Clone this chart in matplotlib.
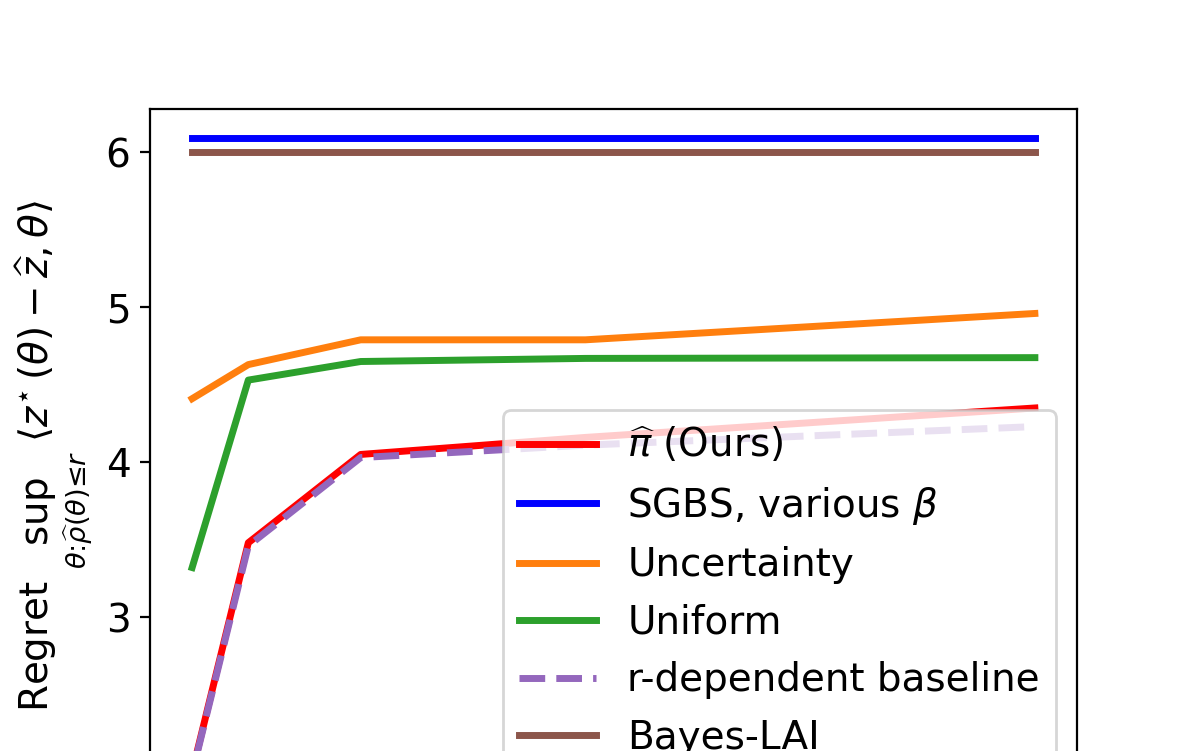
import matplotlib
matplotlib.use("Agg")
import matplotlib.pyplot as plt

# budget / radius values (x axis is below the visible crop)
r_vals = [1, 2, 4, 8, 16]

ours = [2.00, 3.48, 4.05, 4.16, 4.35]
sgbs = [6.09, 6.09, 6.09, 6.09, 6.09]
uncertainty = [4.41, 4.63, 4.79, 4.79, 4.96]
uniform = [3.32, 4.53, 4.65, 4.67, 4.675]
r_dependent = [1.99, 3.46, 4.03, 4.11, 4.23]
bayes_lai = [6.005, 6.005, 6.005, 6.005, 6.005]

labels = [r'$\widehat{\pi}$ (Ours)', r'SGBS, various $\beta$', 'Uncertainty',
          'Uniform', 'r-dependent baseline', 'Bayes-LAI']

plt.rcParams['font.size'] = 14

fig = plt.figure(figsize=(5.98, 3.755), dpi=200)
W, H = 1196, 751
ax = fig.add_axes([150 / W, (H - 803) / H, (1077 - 150) / W, (803 - 109) / H])

ax.plot(r_vals, ours, color='red', lw=2.5, label=labels[0])
ax.plot(r_vals, sgbs, color='blue', lw=2.5, label=labels[1])
ax.plot(r_vals, uncertainty, color='tab:orange', lw=2.5, label=labels[2])
ax.plot(r_vals, uniform, color='tab:green', lw=2.5, label=labels[3])
ax.plot(r_vals, r_dependent, color='tab:purple', lw=2.5, ls='--', label=labels[4])
ax.plot(r_vals, bayes_lai, color='tab:brown', lw=2.5, label=labels[5])

ax.set_ylim(1.8, 6.28)
ax.set_yticks([2, 3, 4, 5, 6])
ax.tick_params(axis='x', labelbottom=False)
ax.set_ylabel(r'Regret $\sup_{\theta:\widehat{\rho}(\theta)\leq r}\ \langle z^\star(\theta)-\widehat{z},\theta\rangle$')

ax.legend(loc='upper left', bbox_to_anchor=(503 / W, 1 - 410 / H),
          bbox_transform=fig.transFigure, borderaxespad=0)

fig.savefig('out.png', dpi=200)
